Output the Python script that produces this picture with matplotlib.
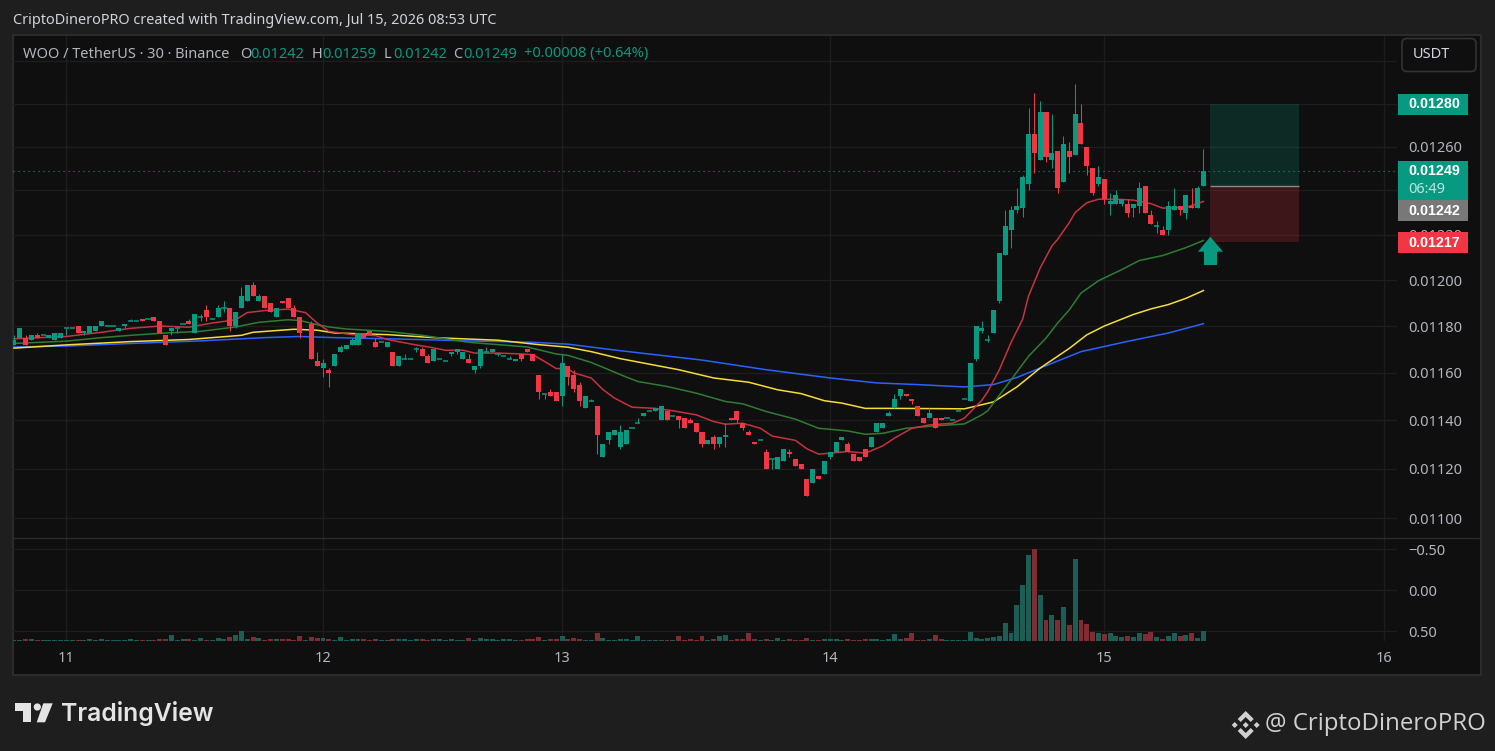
import numpy as np
import matplotlib
matplotlib.use("Agg")
import matplotlib.pyplot as plt
from matplotlib.patches import FancyBboxPatch, Polygon, Rectangle, Circle
from matplotlib.ticker import NullFormatter, NullLocator

plt.rcParams['font.family'] = ['Noto Sans', 'DejaVu Sans']

# OHLC, in price ticks of 0.00001 (one bar has no visible candle)
nan = np.nan
opens_t = [1172,1175,1175,1174,1176,1176,1175,1174,1175,1179,
           1179,1180,1177,1177,1178,1180,1180,1180,1178,1180,
           1182,1182,1183,1183,1184,1182,1176,1178,1179,1181,
           1182,1177,1184,1187,1183,1184,1188,1188,1180,1188,
           1191,1198,1191,1193,1190,1184,1191,1192,1188,1184,
           nan,1181,1165,1162,1161,1163,1169,1170,1172,1172,
           1177,1178,1173,1173,1171,1169,1163,1166,1166,1170,
           1170,1167,1165,1166,1165,1168,1169,1166,1166,1161,
           1163,1169,1169,1168,1167,1166,1165,1168,1170,1168,
           1159,1151,1152,1152,1150,1163,1159,1155,1145,1148,
           1146,1125,1132,1134,1129,1130,1137,1139,1142,1144,
           1144,1140,1144,1142,1142,1141,1140,1139,1135,1130,
           1133,1130,1133,1141,1144,1139,1135,1131,1132,1127,
           1124,1120,1123,1127,1124,1122,1116,1114,1117,1118,
           1125,1127,1132,1130,1126,1125,1128,1129,1135,1137,
           1142,1145,1150,1151,1149,1146,1141,1141,1141,1141,
           1141,1140,1144,1149,1148,1166,1178,1174,1177,1191,
           1211,1222,1231,1232,1243,1266,1254,1276,1254,1258,
           1244,1258,1256,1271,1260,1250,1243,1245,1234,1234,
           1234,1234,1232,1233,1242,1229,1224,1222,1222,1231,
           1233,1230,1233,1232,1242]
closes_t = [1174,1179,1172,1176,1175,1176,1176,1177,1177,1179,
            1179,1177,1178,1180,1180,1182,1180,1180,1179,1181,
            1182,1182,1182,1183,1182,1177,1172,1179,1179,1181,
            1181,1185,1184,1184,1183,1188,1188,1180,1186,1193,
            1198,1193,1193,1188,1186,1188,1190,1188,1184,1177,
            nan,1166,1163,1164,1160,1168,1171,1172,1174,1177,
            1175,1176,1171,1173,1173,1163,1167,1166,1166,1170,
            1167,1164,1170,1166,1165,1169,1170,1169,1164,1163,
            1170,1169,1170,1168,1167,1166,1166,1166,1169,1165,
            1152,1151,1150,1148,1164,1158,1153,1148,1150,1148,
            1134,1130,1135,1136,1135,1136,1137,1139,1143,1144,
            1145,1146,1140,1142,1140,1137,1139,1135,1130,1132,
            1130,1133,1134,1140,1140,1137,1134,1130,1132,1120,
            1124,1125,1128,1126,1121,1120,1109,1120,1116,1123,
            1127,1131,1133,1127,1123,1123,1125,1133,1139,1139,
            1143,1149,1153,1150,1148,1142,1139,1143,1137,1140,
            1141,1140,1144,1149,1164,1180,1179,1174,1187,1212,
            1224,1231,1233,1246,1266,1257,1276,1255,1257,1241,
            1261,1255,1275,1261,1251,1239,1246,1236,1235,1238,
            1236,1230,1234,1241,1230,1225,1224,1220,1233,1233,
            1231,1238,1232,1241,1249]
highs_t = [1176,1179,1176,1176,1177,1176,1176,1177,1177,1179,
           1179,1180,1178,1180,1180,1182,1180,1180,1179,1181,
           1183,1182,1183,1183,1184,1182,1176,1179,1179,1181,
           1183,1185,1185,1189,1183,1189,1191,1188,1186,1197,
           1198,1199,1194,1193,1190,1188,1191,1192,1189,1184,
           nan,1182,1169,1166,1162,1168,1172,1172,1175,1177,
           1177,1178,1175,1173,1173,1169,1167,1168,1166,1171,
           1171,1168,1170,1166,1165,1169,1170,1169,1168,1163,
           1170,1171,1170,1168,1167,1167,1166,1168,1170,1168,
           1159,1151,1153,1152,1168,1163,1161,1156,1150,1149,
           1146,1130,1135,1136,1138,1136,1137,1141,1143,1144,
           1145,1146,1144,1142,1142,1141,1141,1139,1135,1132,
           1134,1133,1139,1141,1144,1139,1136,1131,1132,1128,
           1124,1125,1128,1128,1124,1122,1116,1120,1117,1123,
           1127,1131,1133,1131,1126,1125,1128,1133,1139,1139,
           1144,1151,1153,1151,1149,1146,1141,1145,1141,1141,
           1141,1140,1144,1149,1164,1180,1182,1176,1187,1212,
           1231,1233,1241,1247,1278,1285,1281,1276,1275,1258,
           1265,1262,1289,1280,1260,1250,1251,1245,1239,1240,
           1236,1236,1234,1244,1242,1231,1226,1224,1235,1241,
           1233,1238,1241,1242,1259]
lows_t = [1172,1175,1172,1174,1175,1176,1175,1174,1175,1176,
          1179,1177,1176,1177,1178,1180,1180,1180,1178,1179,
          1182,1182,1182,1183,1182,1177,1172,1176,1177,1181,
          1181,1177,1182,1182,1183,1184,1186,1178,1179,1188,
          1191,1193,1191,1188,1186,1184,1190,1188,1184,1175,
          nan,1166,1163,1158,1154,1163,1169,1170,1172,1172,
          1175,1176,1171,1173,1171,1163,1163,1166,1166,1169,
          1167,1164,1165,1166,1165,1167,1168,1166,1164,1160,
          1162,1169,1169,1167,1167,1166,1165,1165,1169,1165,
          1149,1149,1150,1148,1146,1155,1152,1146,1145,1148,
          1126,1125,1130,1134,1128,1130,1137,1139,1142,1144,
          1144,1140,1140,1142,1137,1137,1139,1135,1129,1130,
          1128,1129,1129,1140,1139,1136,1134,1130,1132,1120,
          1120,1120,1123,1125,1121,1120,1109,1114,1116,1118,
          1124,1127,1132,1127,1123,1123,1125,1129,1135,1137,
          1142,1145,1149,1150,1147,1142,1139,1141,1137,1140,
          1141,1140,1144,1149,1148,1165,1177,1173,1177,1190,
          1211,1214,1230,1228,1240,1248,1254,1253,1250,1239,
          1244,1248,1256,1261,1247,1238,1242,1234,1229,1234,
          1233,1228,1228,1230,1230,1225,1221,1220,1220,1231,
          1229,1227,1232,1232,1242]

# height of each bar in the lower pane, in that pane's axis units
volumes = [.012,.012,.024,.024,.012,.012,.012,.012,.012,.012,
           .012,.012,.012,.024,.012,.024,.012,.012,.012,.012,
           .024,.012,.012,.012,.012,.024,.024,.073,.012,.024,
           .024,.012,.037,.012,.012,.037,.024,.049,.073,.122,
           .024,.049,.037,.012,.024,.024,.024,.024,.012,.061,
           .012,.049,.037,.037,.024,.012,.049,.012,.024,.024,
           .024,.012,.024,.012,.012,.024,.024,.024,.012,.024,
           .024,.012,.024,.024,.012,.024,.012,.012,.037,.012,
           .037,.024,.024,.012,.024,.024,.012,.012,.024,.024,
           .049,.012,.024,.024,.061,.024,.037,.024,.012,.012,
           .098,.037,.012,.012,.024,.024,.012,.061,.012,.012,
           .012,.012,.012,.012,.061,.012,.024,.012,.061,.012,
           .024,.061,.073,.012,.024,.024,.098,.024,.012,.024,
           .012,.037,.012,.024,.012,.012,.037,.012,.012,.024,
           .024,.024,.012,.024,.012,.012,.024,.024,.024,.012,
           .024,.085,.024,.037,.098,.012,.012,.024,.073,.024,
           .012,.012,.012,.012,.11,.037,.024,.037,.049,.061,
           .22,.098,.44,.683,1.049,1.122,.561,.256,.317,.256,
           .415,.195,1.0,.256,.207,.11,.098,.085,.098,.061,
           .049,.061,.049,.098,.085,.11,.049,.024,.061,.098,
           .061,.073,.098,.037,.122]

# moving averages, read at the listed bars (price ticks)
ma_red_idx = [0,9,15,20,25,30,34,38,40,43,47,50,52,54,58,62,64,68,72,74,77,79,83,87,89,
              91,93,95,96,99,101,103,106,110,113,117,120,122,125,128,130,134,136,138,140,
              143,146,149,151,154,157,161,163,166,167,169,171,173,174,176,178,179,181,182,184,
              186,189,192,195,197,201,203,204]
ma_red = [1174.5,1175.5,1177.3,1179,1180,1179.5,1181.3,1182.7,1185.8,1186.7,
          1187.3,1185.8,1181.3,1177.7,1176.3,1175.9,1174.2,1172.3,1170.6,1169.6,
          1169.6,1168.4,1168.4,1168,1167.7,1164.8,1161.8,1161.7,1160,1157.8,
          1152.9,1149.3,1145.5,1145,1144,1142.3,1139.5,1138.4,1138.8,1136.7,
          1133.5,1131.7,1128.2,1126,1126.4,1127.1,1126.4,1129.4,1132.6,1136.7,
          1138.1,1138.8,1140.9,1148.4,1152,1161.3,1172.9,1183,1193,1205.3,
          1215,1218,1225.5,1230,1234.4,1236,1236,1235.6,1234,1232,1232.3,1234,1235]
ma_green_idx = [0,9,15,20,26,32,38,42,47,49,52,54,57,64,70,78,83,88,93,95,99,102,105,107,112,
                117,122,125,129,134,138,143,146,149,153,158,163,166,167,171,174,177,179,181,183,
                186,190,193,197,201,204]
ma_green = [1172.5,1173.5,1175,1176,1177,1177.7,1179.6,1181.6,1182.7,1182.4,
            1180.6,1179.6,1178.7,1177.7,1176,1173,1172,1171,1168,1167.4,
            1164.4,1161.3,1158.2,1156.3,1154.2,1151.4,1147.9,1146.9,1143.7,1140.5,
            1136.7,1135.6,1134.2,1134.6,1136.7,1137.7,1138.5,1142.3,1144,1157,
            1167,1174.8,1181.3,1187,1194.3,1199.7,1204.6,1208.6,1210.8,1214.3,1217.5]
ma_yellow_idx = [0,9,20,30,39,41,48,52,55,64,72,83,90,95,99,104,114,120,126,131,135,139,142,146,151,
                 158,163,168,172,176,181,184,187,192,195,198,201,204]
ma_yellow = [1170.5,1171.9,1173.3,1174.2,1176,1177.3,1178.6,1178.2,1177,1176.3,
             1175,1173.9,1172,1170.9,1169,1166,1161.3,1157.8,1156,1152.8,
             1151.2,1148.2,1147.2,1145,1145,1144.9,1144.8,1147.7,1154,1162,
             1170.4,1176.2,1180,1185,1187.4,1189.3,1192,1195.4]
ma_blue_idx = [0,9,20,32,39,43,49,55,66,78,89,95,104,118,129,140,148,155,163,168,172,176,179,183,191,198,204]
ma_blue = [1171,1171.4,1172.5,1173.6,1174.5,1175,1175.5,1175,1174.4,1173.6,
           1173,1172.2,1169.4,1165.4,1161.3,1157.8,1155.7,1155,1154,1155,
           1158,1162,1165,1169,1173.4,1177,1181]

day_idx = [9, 53, 94, 140, 187, 235]
day_labels = ['11', '12', '13', '14', '15', '16']
price_ticks = [0.0110, 0.0112, 0.0114, 0.0116, 0.0118, 0.0120, 0.0122, 0.0124, 0.0126, 0.0128, 0.0130]
# the tags and the button sit on top of the other labels
price_labels = ['0.01100', '0.01120', '0.01140', '0.01160', '0.01180', '0.01200', '0.01220', '', '0.01260', '', '']
lower_ticks = [-0.5, 0.0, 0.5]
lower_labels = ['\u22120.50', '0.00', '0.50']

entry_price = 0.01242
target_price = 0.01280
stop_price = 0.01217
last_price = 0.01249

GREEN = '#089981'
RED = '#f23645'
GRID = '#1d1d1d'
BORDER = '#2b2b2b'
TEXT = '#b2b5be'
FS = 10.5

TICK = 1e-5
opens = np.array(opens_t, dtype=float) * TICK
closes = np.array(closes_t, dtype=float) * TICK
highs = np.array(highs_t, dtype=float) * TICK
lows = np.array(lows_t, dtype=float) * TICK
idx = np.arange(len(opens))

W, H = 1495, 751
fig = plt.figure(figsize=(W / 100, H / 100), dpi=100, facecolor='#1e1e1e')


def pane(x0, y_top, x1, y_bot):
    return fig.add_axes([x0 / W, 1 - y_bot / H, (x1 - x0) / W, (y_bot - y_top) / H])


# dark panel behind everything
back = fig.add_axes([0, 0, 1, 1], zorder=0)
back.set_xlim(0, W)
back.set_ylim(H, 0)
back.axis('off')
back.add_patch(Rectangle((13, 35), 1468, 640, fc='#0f0f0f', ec=BORDER, lw=1.5))

# price pane
ax = pane(13, 36, 1397, 538)
ax.set_zorder(1)
ax.patch.set_alpha(0)
ax.set_yscale('log')
ax.set_ylim(0.010920, 0.013120)
ax.set_xlim(-0.17, 237.2)
for s in ax.spines.values():
    s.set_visible(False)
ax.yaxis.set_minor_locator(NullLocator())
ax.yaxis.set_minor_formatter(NullFormatter())
ax.yaxis.tick_right()
ax.set_yticks(price_ticks)
ax.set_yticklabels(price_labels, color=TEXT, fontsize=FS)
ax.tick_params(axis='y', length=0, pad=8)
ax.set_xticks(day_idx)
ax.tick_params(axis='x', length=0, labelbottom=False)
ax.grid(True, color=GRID, lw=1)
ax.set_axisbelow(True)

ax.plot(ma_blue_idx, np.array(ma_blue) * TICK, color='#2962ff', lw=1.1, zorder=2)
ax.plot(ma_yellow_idx, np.array(ma_yellow) * TICK, color='#f5dc3a', lw=1.1, zorder=2)
ax.plot(ma_green_idx, np.array(ma_green) * TICK, color='#2f7d34', lw=1.1, zorder=2)
ax.plot(ma_red_idx, np.array(ma_red) * TICK, color='#c8323f', lw=1.1, zorder=2)

up = closes > opens
down = closes < opens
flat = closes == opens
wick_colors = [RED if c < o else GREEN for o, c in zip(opens, closes)]
ax.vlines(idx, lows, highs, colors=wick_colors, lw=0.75, zorder=3)
ax.bar(idx[up], (closes - opens)[up], bottom=opens[up], width=0.86, color=GREEN, lw=0, zorder=4)
ax.bar(idx[down], (opens - closes)[down], bottom=closes[down], width=0.86, color=RED, lw=0, zorder=4)
ax.hlines(opens[flat], idx[flat] - 0.45, idx[flat] + 0.45, colors=GREEN, lw=1.1, zorder=4)

ax.axhline(last_price, color=GREEN, lw=0.8, ls=(0, (1, 3.5)), zorder=1)

# long position box to the right of the last bar
ax.fill_between([205.1, 220.4], entry_price, target_price, color=GREEN, alpha=0.2, lw=0, zorder=2)
ax.fill_between([205.1, 220.4], stop_price, entry_price, color=RED, alpha=0.2, lw=0, zorder=2)
ax.plot([205.1, 220.4], [entry_price, entry_price], color='#8a8a8a', lw=1, zorder=3, solid_capstyle='butt')

# lower pane
vol = pane(13, 539, 1397, 641)
vol.set_zorder(1)
vol.patch.set_alpha(0)
vol.set_xlim(-0.17, 237.2)
vol.set_ylim(0.617, -0.624)
for s in vol.spines.values():
    s.set_visible(False)
vol_colors = ['#7e2e32' if c < o else '#1c5d55' for o, c in zip(opens, closes)]
vol.bar(idx, -np.array(volumes), bottom=0.617, width=0.85, color=vol_colors, lw=0, zorder=3)
vol.yaxis.tick_right()
vol.set_yticks(lower_ticks)
vol.set_yticklabels(lower_labels, color=TEXT, fontsize=FS)
vol.set_xticks(day_idx)
vol.set_xticklabels(day_labels, color=TEXT, fontsize=FS)
vol.tick_params(axis='y', length=0, pad=8)
vol.tick_params(axis='x', length=0, pad=7)
vol.grid(True, color=GRID, lw=1)
vol.set_axisbelow(True)

# overlay in picture pixels for the labels and logos
top = fig.add_axes([0, 0, 1, 1], zorder=5)
top.set_xlim(0, W)
top.set_ylim(H, 0)
top.axis('off')
top.patch.set_alpha(0)

top.plot([13, 1481], [538, 538], color=BORDER, lw=1)

top.text(13, 20, 'CriptoDineroPRO created with TradingView.com, Jul 15, 2026 08:53 UTC',
         color='#d1d4dc', fontsize=10.4, va='center')

top.text(23, 54, 'WOO / TetherUS \u00b7 30 \u00b7 Binance', color=TEXT, fontsize=FS, va='center')
for x, lab, val in [(240, 'O', '0.01242'), (312, 'H', '0.01259'), (383.5, 'L', '0.01242'), (453, 'C', '0.01249')]:
    top.text(x, 54, lab, color=TEXT, fontsize=FS, va='center')
    top.text(x + 10, 54, val, color=GREEN, fontsize=FS, va='center')
top.text(523.5, 54, '+0.00008 (+0.64%)', color=GREEN, fontsize=FS, va='center')

# right scale tags
tag_x, tag_w = 1398, 70
for y0, y1, color in [(94, 115, GREEN), (161, 200, GREEN), (200, 221, '#787878'), (232, 253, RED)]:
    top.add_patch(Rectangle((tag_x, y0), tag_w, y1 - y0, fc=color, lw=0))
for y, txt in [(104.5, '0.01280'), (171, '0.01249'), (211, '0.01242'), (243, '0.01217')]:
    top.text(1408, y, txt, color='white', fontsize=10.3, va='center', fontweight='bold',
             family=['Liberation Sans', 'DejaVu Sans'])
top.text(1408, 189.5, '06:49', color='#b8e6dc', fontsize=FS, va='center')

top.add_patch(FancyBboxPatch((1405, 41.5), 68, 27, boxstyle='round,pad=3,rounding_size=5',
                             fc='#0f0f0f', ec='#333333', lw=1.2))
top.text(1413, 55, 'USDT', color='#d1d4dc', fontsize=FS, va='center')

# arrow under the position box
top.add_patch(Polygon([(1210.3, 236.7), (1223, 251.7), (1217, 251.7), (1217, 265),
                       (1204, 265), (1204, 251.7), (1198, 251.7)], fc=GREEN, lw=0))

# TradingView logo
logo = '#e4e4e4'
top.add_patch(Polygon([(15.3, 703.3), (30.7, 703.3), (30.7, 722.3), (23.3, 722.3),
                       (23.3, 710.7), (15.3, 710.7)], fc=logo, lw=0))
top.add_patch(Circle((37.3, 707), 3.6, fc=logo, lw=0))
top.add_patch(Polygon([(43.3, 703.3), (52.7, 703.3), (45, 722.3), (36.7, 722.3)], fc=logo, lw=0))
top.text(61, 713, 'TradingView', color=logo, fontsize=17.8, va='center', fontweight='semibold',
         family=['Inter', 'DejaVu Sans'])

# author mark
mark = '#d0d0d0'
cx, cy = 1245.7, 725
top.add_patch(Polygon([(cx, cy - 14), (cx + 8, cy - 6), (cx + 5, cy - 3), (cx, cy - 8), (cx - 5, cy - 3), (cx - 8, cy - 6)], fc=mark, lw=0))
top.add_patch(Polygon([(cx, cy + 14), (cx + 8, cy + 6), (cx + 5, cy + 3), (cx, cy + 8), (cx - 5, cy + 3), (cx - 8, cy + 6)], fc=mark, lw=0))
top.add_patch(Polygon([(cx - 14, cy), (cx - 11, cy - 3), (cx - 8, cy), (cx - 11, cy + 3)], fc=mark, lw=0))
top.add_patch(Polygon([(cx + 14, cy), (cx + 11, cy - 3), (cx + 8, cy), (cx + 11, cy + 3)], fc=mark, lw=0))
top.add_patch(Polygon([(cx, cy - 3), (cx + 3, cy), (cx, cy + 3), (cx - 3, cy)], fc=mark, lw=0))
top.text(1265, 724, '@ CriptoDineroPRO', color=mark, fontsize=17.3, va='center', family=['Open Sans', 'DejaVu Sans'])

fig.savefig('out.png', dpi=100, facecolor=fig.get_facecolor())
